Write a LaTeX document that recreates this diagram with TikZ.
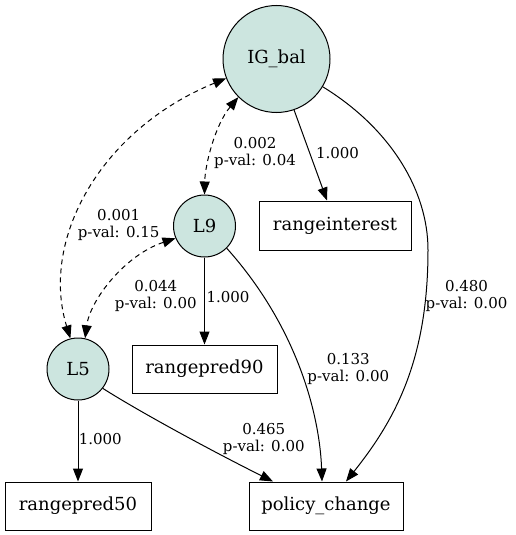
\documentclass[tikz,border=0pt]{standalone}
\usepackage{fontspec}
\setmainfont{DejaVu Serif}
\usetikzlibrary{arrows.meta}
\definecolor{latfill}{RGB}{204,229,223}
\begin{document}
\begin{tikzpicture}[x=1pt,y=-1pt,
  latent/.style={circle,draw,line width=1pt,fill=latfill,inner sep=0pt,font=\fontsize{18}{20}\selectfont},
  obs/.style={rectangle,draw,line width=1pt,inner sep=0pt,minimum height=48pt,font=\fontsize{18}{20}\selectfont},
  lab/.style={align=center,inner sep=0pt,font=\fontsize{15}{17}\selectfont},
  path/.style={line width=1pt,-{Triangle[length=13pt,width=10pt]}},
  cov/.style={line width=1pt,dash pattern=on 5pt off 4pt,{Triangle[length=13pt,width=10pt]}-{Triangle[length=13pt,width=10pt]}}]
\useasboundingbox (0,0) rectangle (515,535);
% nodes
\node[latent,minimum size=107pt] (ig) at (276.5,59) {IG\_bal};
\node[latent,minimum size=62pt] (l9) at (204.5,226) {L9};
\node[latent,minimum size=62pt] (l5) at (78,369) {L5};
\node[obs,minimum width=152pt,minimum height=49pt] (ri) at (335,225.5) {rangeinterest};
\node[obs,minimum width=145pt] (r90) at (204.5,369) {rangepred90};
\node[obs,minimum width=146pt] (r50) at (78,506) {rangepred50};
\node[obs,minimum width=154pt] (pc) at (326,506) {policy\_change};
% directed paths
\draw[path] (ig.-71.7) -- ([xshift=-8pt]ri.north);
\draw[path] (ig.-31.4) .. controls (390,128) and (428,190) .. (428,250)
  .. controls (428,360) and (395,420) .. ([xshift=20pt]pc.north);
\draw[path] (l9.-90) -- (r90.north);
\draw[path] (l9.-45.6) .. controls (300,330) and (320,420) .. ([xshift=-4pt]pc.north);
\draw[path] (l5.-90) -- (r50.north);
\draw[path] (l5.-38.4) .. controls (140,412) and (210,450) .. ([xshift=-53pt]pc.north);
% covariances
\draw[cov] (ig.-135.4) .. controls (215,125) and (205,165) .. (l9.90);
\draw[cov] (ig.-159.4) .. controls (100,130) and (40,240) .. (l5.104.5);
\draw[cov] (l9.-157) .. controls (125,255) and (90,300) .. (l5.77.3);
% labels
\node[lab] (t1) at (337.5,153) {1.000};
\node[lab] (t2) at (466.5,296) {0.480\\p-val: 0.00};
\node[lab] (t3) at (255,153) {0.002\\p-val: 0.04};
\node[lab] (t4) at (118.7,224.5) {0.001\\p-val: 0.15};
\node[lab] (t5) at (155.8,296) {0.044\\p-val: 0.00};
\node[lab] (t6) at (228,297) {1.000};
\node[lab] (t7) at (348.3,368.5) {0.133\\p-val: 0.00};
\node[lab] (t8) at (100.3,439) {1.000};
\node[lab] (t9) at (263.8,439) {0.465\\p-val: 0.00};
\end{tikzpicture}
\end{document}
